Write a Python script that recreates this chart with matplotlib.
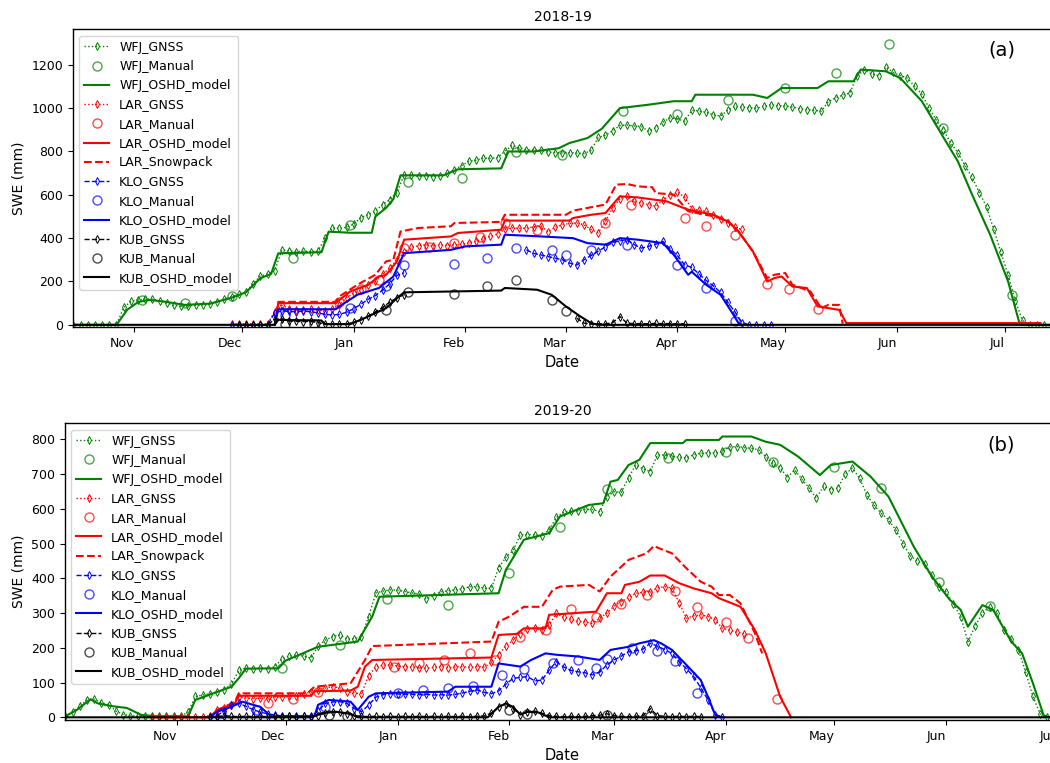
import numpy as np
import pandas as pd
import matplotlib
matplotlib.use("Agg")
import matplotlib.pyplot as plt

nan = np.nan

# ---------------- axis tick data ----------------
tick_labels = ["Nov", "Dec", "Jan", "Feb", "Mar", "Apr", "May", "Jun", "Jul"]
ticks_1819 = ["2018-11-01", "2018-12-01", "2019-01-01", "2019-02-01", "2019-03-01",
              "2019-04-01", "2019-05-01", "2019-06-01", "2019-07-01"]
ticks_1920 = ["2019-11-01", "2019-12-01", "2020-01-01", "2020-02-01", "2020-03-01",
              "2020-04-01", "2020-05-01", "2020-06-01", "2020-07-01"]
yticks_1819 = [0, 200, 400, 600, 800, 1000, 1200]
yticks_1920 = [0, 100, 200, 300, 400, 500, 600, 700, 800]

# ================= 2018-19 =================
# GNSS series: start date, values every 2 days
wfj_gnss_1819_start = "2018-10-15"
wfj_gnss_1819 = [0, 0, 0, 0, 0, 0, 0, 80, 108,
                 115, 120, 118, 110, 100, 90, 86, 88, 90, 92, 95, 105, 118, 130, 140,
                 152, 190, 225, 235, 250, 345, 342, 338, 340, 338, 340, 400, 448, 445, 450,
                 465, 495, 508, 525, 555, 578, 610, 693, 690, 685, 688, 684, 686, 700, 716, 735,
                 754, 760, 770, 768, 772, 800, 828, 818, 808, 808, 805, 798, 795, 793,
                 795, 793, 790, 805, 865, 875, 895, 920, 922, 918, 915, 893, 910, 935, 955,
                 950, 940, 990, 988, 980, 970, 963, 990, 1008, 1005, 1002, 1000, 1008, 1015, 1012,
                 1010, 1005, 998, 993, 990, 986, 1030, 1047, 1060, 1070, 1150, 1175, 1158, 1150, 1190, 1165,
                 1150, 1139, 1100, 1065, 1000, 945, 900, 840, 795, 735, 680, 610, 545, 440, 335,
                 230, 110, 20, 0, 0, 0, 0]

lar_gnss_1819_start = "2018-11-28"
lar_gnss_1819 = [5, 5,
                 5, 5, 5, 5, 60, 90, 75, 70, 68, 72, 70, 66, 75, 92, 125,
                 145, 160, 185, 200, 235, 262, 300, 335, 358, 365, 369, 364, 370, 366, 370, 372,
                 378, 385, 398, 408, 420, 440, 448, 445, 447, 452, 458, 428, 450, 462,
                 468, 470, 462, 440, 425, 478, 540, 580, 593, 572, 562, 555, 547, 575, 600,
                 612, 590, 535, 528, 524, 505, 487, 470, 450, 440]

klo_gnss_1819_start = "2018-11-28"
klo_gnss_1819 = [0, 0,
                 0, 0, 0, 0, 55, 65, 62, 60, 64, 60, 56, 48, 46, 48, 58,
                 75, 95, 118, 135, 160, 190, 228, 240, nan, nan, nan, nan, nan, nan, nan, nan,
                 nan, nan, nan, nan, nan, nan, nan, nan, 346, 330, 323, 315, 308, 300,
                 285, 276, 300, 320, 340, 360, 380, 388, 393, 370, 354, 362, 372, 385, 350,
                 320, 277, 265, 235, 205, 180, 150, 105, 60, 10, 0, 0, 0, 0]

kub_gnss_1819_start = "2018-11-30"
kub_gnss_1819 = [0,
                 0, 0, 0, 0, 25, 28, 18, 16, 15, 16, 10, 5, 3, 3, 4,
                 12, 22, 40, 60, 80, 105, 125, 139, nan, nan, nan, nan, nan, nan, nan, nan,
                 nan, nan, nan, nan, nan, nan, nan, nan, nan, nan, nan, nan, nan, nan,
                 nan, 31, 8, 3, 5, 4, 10, 38, 8, 5, 6, 4, 7, 5, 6,
                 4, 5]

# Manual measurements (MM-DD, SWE)
wfj_manual_1819 = [("11-03", 115), ("11-15", 100), ("11-28", 131), ("12-15", 308), ("12-31", 459),
                   ("01-16", 659), ("01-31", 678), ("02-15", 796), ("02-28", 785), ("03-17", 986),
                   ("04-01", 973), ("04-15", 1036), ("05-01", 1093), ("05-15", 1163), ("05-30", 1298),
                   ("06-14", 908), ("07-03", 139)]
lar_manual_1819 = [("12-28", 106), ("01-03", 165), ("01-08", 206), ("01-15", 353), ("01-22", 360),
                   ("01-29", 376), ("02-05", 404), ("02-12", 471), ("02-21", 437), ("03-12", 470),
                   ("03-19", 551), ("04-03", 493), ("04-09", 454), ("04-17", 416), ("04-26", 188),
                   ("05-02", 166), ("05-10", 73)]
klo_manual_1819 = [("12-13", 45), ("12-31", 76), ("01-10", 177), ("01-15", 274), ("01-29", 282),
                   ("02-07", 308), ("02-15", 354), ("02-25", 346), ("03-01", 323), ("03-08", 346),
                   ("03-18", 367), ("04-01", 274), ("04-09", 170), ("04-17", 19)]
kub_manual_1819 = [("12-13", 5), ("12-21", 3), ("01-10", 69), ("01-16", 150), ("01-29", 143),
                   ("02-07", 180), ("02-15", 205), ("02-25", 115), ("03-01", 62)]

# OSHD model / Snowpack (MM-DD, SWE)
wfj_model_1819 = [("10-15", 0), ("10-27", 0), ("10-30", 70), ("11-02", 105), ("11-05", 115), ("11-09", 108),
                  ("11-15", 92), ("11-22", 98), ("11-28", 125), ("12-02", 150), ("12-06", 215), ("12-09", 235),
                  ("12-11", 330), ("12-23", 335), ("12-25", 430), ("12-31", 425), ("01-06", 425), ("01-07", 500),
                  ("01-10", 540), ("01-12", 580), ("01-14", 690), ("01-26", 690), ("01-30", 718), ("02-11", 722),
                  ("02-13", 800), ("02-20", 800), ("02-27", 815), ("03-02", 839), ("03-07", 862), ("03-11", 905),
                  ("03-16", 1000), ("03-24", 1016), ("03-31", 1032), ("04-05", 1032), ("04-06", 1062),
                  ("04-22", 1062), ("04-26", 1047), ("04-30", 1093), ("05-10", 1093), ("05-13", 1124),
                  ("05-20", 1124), ("05-22", 1178), ("05-29", 1170), ("06-02", 1139), ("06-08", 1032),
                  ("06-13", 893), ("06-18", 755), ("06-22", 600), ("06-27", 416), ("07-02", 200),
                  ("07-05", 16), ("07-06", 0), ("07-15", 0)]
lar_model_1819 = [("12-10", 0), ("12-11", 100), ("12-27", 100), ("12-28", 115), ("12-31", 154), ("01-05", 185),
                  ("01-08", 223), ("01-10", 231), ("01-13", 293), ("01-15", 393), ("01-28", 408), ("01-30", 424),
                  ("02-11", 439), ("02-12", 481), ("03-02", 481), ("03-03", 493), ("03-08", 508), ("03-12", 516),
                  ("03-16", 593), ("03-21", 588), ("03-29", 570), ("04-04", 531), ("04-11", 508), ("04-15", 477),
                  ("04-18", 431), ("04-22", 339), ("04-26", 200), ("04-28", 216), ("04-30", 223), ("05-03", 177),
                  ("05-07", 170), ("05-10", 85), ("05-13", 77), ("05-16", 69), ("05-18", 8), ("07-11", 8)]
lar_snowpack_1819 = [("12-10", 0), ("12-11", 106), ("12-27", 106), ("12-28", 131), ("01-02", 185), ("01-07", 231),
                     ("01-10", 293), ("01-12", 300), ("01-14", 431), ("01-19", 447), ("01-28", 455), ("01-29", 470),
                     ("02-11", 475), ("02-12", 508), ("03-01", 508), ("03-03", 527), ("03-12", 555), ("03-15", 647),
                     ("03-18", 650), ("03-21", 639), ("03-25", 635), ("03-26", 608), ("03-31", 601), ("04-04", 524),
                     ("04-11", 501), ("04-15", 481), ("04-18", 431), ("04-22", 339), ("04-26", 216), ("04-28", 231),
                     ("05-01", 239), ("05-03", 185), ("05-08", 154), ("05-11", 77), ("05-13", 92), ("05-16", 92),
                     ("05-17", 5)]
klo_model_1819 = [("12-10", 0), ("12-11", 72), ("12-27", 72), ("12-28", 85), ("01-02", 139), ("01-08", 170),
                  ("01-12", 223), ("01-15", 331), ("01-28", 346), ("02-01", 362), ("02-11", 370), ("02-12", 416),
                  ("02-22", 408), ("03-03", 400), ("03-07", 377), ("03-12", 370), ("03-16", 400), ("03-21", 393),
                  ("03-28", 377), ("03-31", 323), ("04-04", 231), ("04-05", 245), ("04-09", 185), ("04-13", 139),
                  ("04-16", 62), ("04-18", 8), ("04-19", 0)]
kub_model_1819 = [("10-15", 0), ("12-10", 0), ("12-11", 23), ("12-23", 20), ("12-24", 3), ("12-31", 3),
                  ("01-04", 31), ("01-10", 77), ("01-13", 123), ("01-15", 150), ("02-11", 158), ("02-12", 170),
                  ("02-21", 162), ("02-25", 139), ("03-01", 85), ("03-05", 39), ("03-08", 8), ("03-10", 0),
                  ("07-15", 0)]

# ================= 2019-20 =================
wfj_gnss_1920_start = "2019-10-01"
wfj_gnss_1920 = [5, 15, 32, 50, 52, 42, 36, 18, 8, 5, 4, 3, 3, 4, 3, 4,
                 4, 15, 60, 64, 68, 73, 80, 95, 135, 142, 140, 142, 140, 145, 168,
                 176, 180, 176, 170, 205, 222, 232, 237, 225, 226, 232, 290, 358, 363, 367,
                 366, 362, 358, 355, 340, 350, 361, 364, 367, 370, 376, 376, 372, 371, 430, 460,
                 480, 525, 526, 525, 522, 540, 575, 590, 595, 594, 598, 598, 592, 635,
                 649, 648, 690, 726, 715, 707, 755, 755, 751, 748, 747, 755, 760, 761, 760, 765,
                 778, 779, 776, 774, 770, 750, 731, 718, 690, 712, 685, 660, 630, 665, 655,
                 660, 700, 717, 688, 640, 610, 587, 568, 540, 500, 465, 450, 440, 410, 376,
                 360, 325, 290, 218, 262, 300, 318, 300, 250, 225, 194, 130, 60, 10, 0]

lar_gnss_1920_start = "2019-10-25"
lar_gnss_1920 = [0, 0, 0, 0,
                 0, 0, 0, 2, 5, 20, 28, 35, 58, 56, 54, 55, 57, 58, 59,
                 60, 62, 68, 72, 79, 84, 88, 85, 74, 70, 68, 120, 146, 150, 151,
                 148, 146, 145, 143, 141, 144, 146, 143, 145, 146, 144, 146, 145, 158, 180, 205,
                 222, 240, 254, 256, 251, 266, 299, 288, 282, 276, 275, 270, 285, 300,
                 320, 333, 345, 357, 360, 362, 372, 376, 372, 330, 285, 292, 295, 290, 280, 256,
                 251, 245, 241]

klo_gnss_1920_start = "2019-11-10"
klo_gnss_1920 = [0, 5, 18, 35, 40, 32, 22, 15, 10, 7, 4,
                 3, 3, 3, 3, 18, 40, 44, 45, 40, 25, 16, 35, 58, 65, 68,
                 67, 66, 66, 65, 66, 64, 65, 64, 66, 70, 75, 79, 72, 68, 76, 95,
                 112, 115, 117, 105, 107, 136, 160, 145, 135, 131, 128, 122, 130, 151,
                 165, 176, 189, 192, 196, 213, 205, 195, 184, 160, 140, 118, 85, 50, 8, 0]

kub_gnss_1920_start = "2019-11-10"
kub_gnss_1920 = [0, 2, 5, 3, 2, 3, 2, 3, 2, 3, 2,
                 3, 2, 3, 2, 5, 12, 16, 14, 10, 5, 3, 2, 3, 2, 3,
                 2, 3, 2, 3, 2, 3, 2, 3, 2, 3, 2, 3, 4, 12, 30, 38,
                 25, 8, 15, 18, 12, 5, 3, 2, 3, 2, 3, 5, 6, 10,
                 5, 3, 2, 3, 5, 25, 5, 3, 2, 3, 2, 3, 2]

wfj_manual_1920 = [("11-30", 141), ("12-16", 208), ("12-29", 340), ("01-15", 323), ("02-01", 416),
                   ("02-15", 547), ("02-28", 656), ("03-16", 745), ("04-01", 764), ("04-14", 736),
                   ("05-01", 721), ("05-14", 659), ("05-30", 388), ("06-13", 320)]
lar_manual_1920 = [("11-26", 40), ("12-03", 53), ("12-10", 74), ("12-31", 146), ("01-07", 157),
                   ("01-14", 165), ("01-21", 184), ("01-28", 165), ("02-04", 232), ("02-11", 251),
                   ("02-18", 312), ("02-25", 290), ("03-03", 325), ("03-10", 352), ("03-18", 364),
                   ("03-24", 316), ("04-01", 275), ("04-07", 227), ("04-15", 52)]
klo_manual_1920 = [("11-13", 12), ("11-23", 21), ("12-12", 30), ("01-01", 71), ("01-08", 79),
                   ("01-15", 83), ("01-22", 91), ("01-30", 122), ("02-05", 138), ("02-13", 155),
                   ("02-20", 165), ("02-25", 141), ("02-28", 167), ("03-06", 199), ("03-13", 192),
                   ("03-18", 163), ("03-24", 69)]
kub_manual_1920 = [("12-13", 8), ("12-18", 5), ("02-01", 22), ("02-06", 10), ("02-28", 8), ("03-11", 5)]

wfj_model_1920 = [("10-01", 3), ("10-04", 20), ("10-08", 52), ("10-10", 40), ("10-14", 32), ("10-18", 27),
                  ("10-22", 7), ("10-26", 3), ("11-04", 3), ("11-06", 50), ("11-16", 88), ("11-18", 112),
                  ("11-20", 140), ("11-29", 141), ("12-01", 163), ("12-10", 203), ("12-21", 218), ("12-25", 290),
                  ("12-27", 347), ("01-29", 357), ("01-31", 424), ("02-05", 511), ("02-12", 530), ("02-15", 578),
                  ("02-23", 611), ("02-27", 616), ("02-29", 678), ("03-02", 683), ("03-05", 726), ("03-08", 741),
                  ("03-11", 789), ("03-20", 789), ("03-21", 798), ("03-30", 798), ("03-31", 808), ("04-08", 808),
                  ("04-12", 793), ("04-16", 784), ("04-21", 750), ("04-27", 697), ("04-30", 726), ("05-06", 736),
                  ("05-11", 693), ("05-16", 635), ("05-23", 491), ("05-28", 405), ("06-02", 338), ("06-05", 309),
                  ("06-07", 261), ("06-11", 323), ("06-14", 309), ("06-19", 218), ("06-22", 184), ("06-25", 98),
                  ("06-28", 5), ("06-30", 0)]
lar_model_1920 = [("10-25", 0), ("11-10", 0), ("11-12", 21), ("11-17", 40), ("11-18", 62), ("12-08", 62),
                  ("12-09", 75), ("12-19", 77), ("12-21", 88), ("12-23", 146), ("12-25", 165), ("01-27", 172),
                  ("01-29", 237), ("02-03", 240), ("02-05", 256), ("02-11", 256), ("02-12", 295), ("02-25", 304),
                  ("02-28", 357), ("03-03", 357), ("03-04", 381), ("03-08", 390), ("03-11", 408), ("03-15", 408),
                  ("03-19", 386), ("03-23", 371), ("03-28", 357), ("03-30", 343), ("04-05", 318), ("04-09", 251),
                  ("04-12", 184), ("04-16", 59), ("04-19", 0)]
lar_snowpack_1920 = [("11-12", 20), ("11-17", 45), ("11-18", 69), ("12-07", 69), ("12-09", 88), ("12-19", 98),
                     ("12-23", 165), ("12-25", 205), ("01-27", 218), ("01-29", 275), ("02-01", 290), ("02-05", 318),
                     ("02-10", 318), ("02-13", 367), ("02-15", 376), ("02-23", 381), ("02-26", 362), ("02-29", 405),
                     ("03-02", 424), ("03-05", 453), ("03-10", 472), ("03-12", 493), ("03-14", 484), ("03-17", 472),
                     ("03-21", 429), ("03-25", 390), ("03-28", 376), ("03-30", 352), ("04-02", 352), ("04-05", 328),
                     ("04-09", 242), ("04-11", 184)]
klo_model_1920 = [("11-10", 0), ("11-12", 16), ("11-16", 30), ("11-19", 45), ("11-24", 30), ("11-27", 3),
                  ("12-09", 3), ("12-10", 36), ("12-13", 50), ("12-19", 45), ("12-21", 21), ("12-24", 59),
                  ("12-26", 69), ("01-15", 74), ("01-17", 88), ("01-27", 88), ("01-29", 155), ("02-04", 146),
                  ("02-07", 165), ("02-11", 184), ("02-14", 180), ("02-20", 175), ("02-26", 165), ("02-29", 194),
                  ("03-05", 203), ("03-08", 213), ("03-12", 222), ("03-14", 213), ("03-17", 194), ("03-21", 151),
                  ("03-25", 107), ("03-27", 59), ("03-29", 7), ("03-31", 0)]
kub_model_1920 = [("10-01", 0), ("12-08", 0), ("12-11", 12), ("12-15", 16), ("12-19", 10), ("12-21", 0),
                  ("01-26", 0), ("01-29", 30), ("01-31", 40), ("02-02", 30), ("02-04", 8), ("02-06", 16),
                  ("02-09", 14), ("02-12", 0), ("07-05", 0)]


# ---------------- helpers ----------------
def md_series(year0, pairs):
    dates, vals = [], []
    for md, v in pairs:
        m = int(md[:2])
        y = year0 if m >= 8 else year0 + 1
        dates.append(pd.Timestamp(f"{y}-{md}"))
        vals.append(v)
    return dates, vals


def gnss_series(start, vals):
    return pd.date_range(start, periods=len(vals), freq="2D"), vals


colors = {"WFJ": "green", "LAR": "red", "KLO": "blue", "KUB": "black"}
gnss_ls = {"WFJ": ":", "LAR": ":", "KLO": "--", "KUB": "--"}


def draw_panel(ax, year0, data):
    for st in ["WFJ", "LAR", "KLO", "KUB"]:
        c = colors[st]
        d = data[st]
        x, y = gnss_series(*d["gnss"])
        ax.plot(x, y, linestyle=gnss_ls[st], color=c, lw=1.0, marker="d", ms=4,
                mfc="none", mew=0.7, label=f"{st}_GNSS")
        x, y = md_series(year0, d["manual"])
        ax.plot(x, y, linestyle="none", marker="o", ms=6.5, mfc="none", mec=c, mew=1.0,
                alpha=0.7, label=f"{st}_Manual")
        x, y = md_series(year0, d["model"])
        ax.plot(x, y, "-", color=c, lw=1.5, label=f"{st}_OSHD_model")
        if "snowpack" in d:
            x, y = md_series(year0, d["snowpack"])
            ax.plot(x, y, "--", color=c, lw=1.5, label=f"{st}_Snowpack")


data_1819 = {
    "WFJ": {"gnss": (wfj_gnss_1819_start, wfj_gnss_1819), "manual": wfj_manual_1819, "model": wfj_model_1819},
    "LAR": {"gnss": (lar_gnss_1819_start, lar_gnss_1819), "manual": lar_manual_1819, "model": lar_model_1819,
            "snowpack": lar_snowpack_1819},
    "KLO": {"gnss": (klo_gnss_1819_start, klo_gnss_1819), "manual": klo_manual_1819, "model": klo_model_1819},
    "KUB": {"gnss": (kub_gnss_1819_start, kub_gnss_1819), "manual": kub_manual_1819, "model": kub_model_1819},
}
data_1920 = {
    "WFJ": {"gnss": (wfj_gnss_1920_start, wfj_gnss_1920), "manual": wfj_manual_1920, "model": wfj_model_1920},
    "LAR": {"gnss": (lar_gnss_1920_start, lar_gnss_1920), "manual": lar_manual_1920, "model": lar_model_1920,
            "snowpack": lar_snowpack_1920},
    "KLO": {"gnss": (klo_gnss_1920_start, klo_gnss_1920), "manual": klo_manual_1920, "model": klo_model_1920},
    "KUB": {"gnss": (kub_gnss_1920_start, kub_gnss_1920), "manual": kub_manual_1920, "model": kub_model_1920},
}

plt.rcParams["font.family"] = ["DejaVu Sans"]
fig = plt.figure(figsize=(10.5, 7.63), dpi=100)
ax1 = fig.add_axes([0.06952, 0.57143, 0.93238, 0.38991])
ax2 = fig.add_axes([0.06190, 0.05623, 0.94762, 0.38899])

panels = [
    (ax1, 2018, data_1819, "2018-19", ticks_1819, yticks_1819,
     ("2018-10-14 21:36", "2019-07-14 04:48"), (-10, 1363), "(a)", (0.954, 0.934)),
    (ax2, 2019, data_1920, "2019-20", ticks_1920, yticks_1920,
     ("2019-09-30 21:36", "2020-07-02 12:00"), (-8, 846), "(b)", (0.953, 0.417)),
]

for ax, y0, data, title, ticks, yticks, xl, yl, tag, tagpos in panels:
    draw_panel(ax, y0, data)
    ax.set_xlim(pd.Timestamp(xl[0]), pd.Timestamp(xl[1]))
    ax.set_ylim(*yl)
    ax.set_xticks([pd.Timestamp(t) for t in ticks])
    ax.set_xticklabels(tick_labels, ha="right", fontsize=9)
    ax.set_yticks(yticks)
    ax.tick_params(axis="y", labelsize=9)
    ax.set_xlabel("Date", fontsize=10.5)
    ax.set_ylabel("SWE (mm)", fontsize=10)
    ax.set_title(title, fontsize=10, pad=6)
    for s in ax.spines.values():
        s.set_linewidth(1.0)
    ax.legend(loc="upper left", fontsize=9, labelspacing=0.5, handlelength=2.0)
    fig.text(tagpos[0], tagpos[1], tag, fontsize=14, ha="center", va="center")

fig.savefig("out.png", dpi=100)
